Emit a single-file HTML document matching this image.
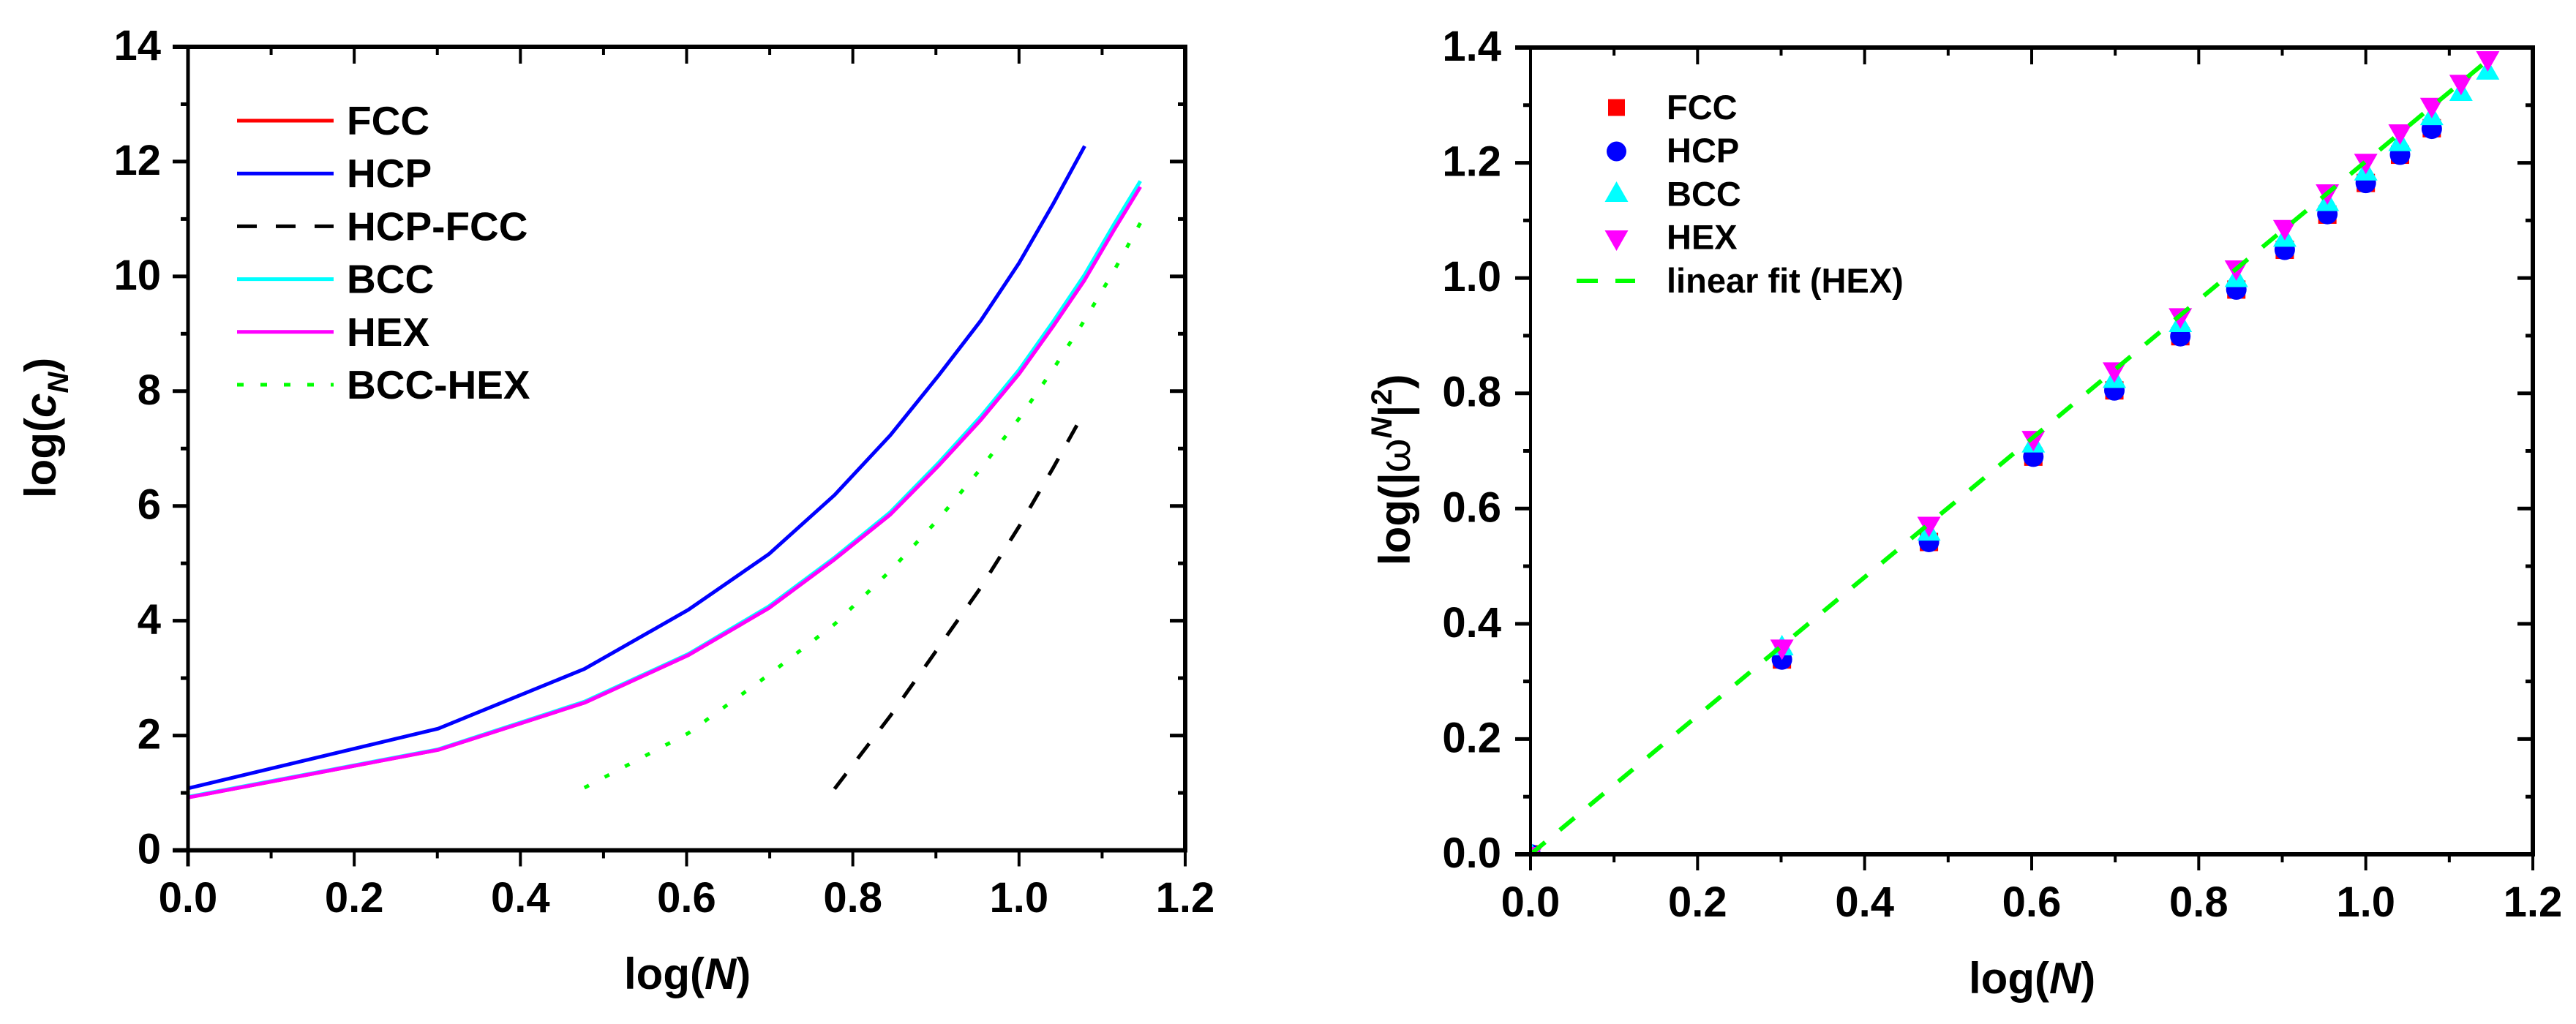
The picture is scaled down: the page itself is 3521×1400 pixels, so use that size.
<!DOCTYPE html>
<html lang="en">
<head>
<meta charset="utf-8">
<title>log(cN) and log(|omega N|^2) versus log(N)</title>
<style>
html,body{margin:0;padding:0;background:#fff;}
svg{display:block;}
text{font-family:"Liberation Sans",Arial,sans-serif;font-weight:bold;fill:#000;}
</style>
</head>
<body>
<svg id="figure" xmlns="http://www.w3.org/2000/svg" width="3521" height="1400" viewBox="0 0 3521 1400">
  <rect x="0" y="0" width="3521" height="1400" fill="#fff"/>
  <defs>
    <clipPath id="right-plot-clip"><rect x="2092" y="64" width="1370" height="1104"/></clipPath>
  </defs>
  <g id="left-chart"></g>
  <g id="right-chart"></g>

  <text font-size="60" transform="translate(76,681) rotate(-90)">log(<tspan font-style="italic">c</tspan><tspan font-style="italic" font-size="40" dy="17">N</tspan><tspan dy="-17">)</tspan></text>
  <text font-size="60" x="853" y="1352">log(<tspan font-style="italic">N</tspan>)</text>
  <text font-size="60" transform="translate(1927,773) rotate(-90)">log(|<tspan font-weight="normal">ω</tspan><tspan font-style="italic" font-size="40" dy="-25">N</tspan><tspan dy="25">|</tspan><tspan font-size="40" dy="-25">2</tspan><tspan dy="25">)</tspan></text>
  <text font-size="60" x="2691" y="1358">log(<tspan font-style="italic">N</tspan>)</text>
</svg>
<script>
// ---------- shared data ----------
const logN = [0, 0.301, 0.477, 0.602, 0.699, 0.778, 0.845, 0.903, 0.954, 1.0, 1.041, 1.079, 1.114, 1.146];

// ---------- left chart data: log(cN) ----------
const fccCurve = [0.92, 1.75, 2.57, 3.40, 4.22, 5.07, 5.85, 6.70, 7.50, 8.30, 9.13, 9.94];
const hcpCurve = [1.08, 2.12, 3.16, 4.19, 5.16, 6.19, 7.23, 8.27, 9.23, 10.23, 11.26, 12.27];
const bccCurve = [0.93, 1.76, 2.59, 3.42, 4.25, 5.10, 5.89, 6.75, 7.56, 8.37, 9.21, 10.03, 10.90, 11.66];
const hexCurve = [0.92, 1.75, 2.57, 3.40, 4.22, 5.07, 5.85, 6.70, 7.50, 8.30, 9.13, 9.94, 10.80, 11.56];
const hcpFccCurve = [1.07, 2.34, 3.53, 4.58, 5.64, 6.66, 7.65];
const hcpFccLogN = [0.778, 0.845, 0.903, 0.954, 1.0, 1.041, 1.079];
const bccHexCurve = [1.09, 2.04, 3.06, 3.94, 4.87, 5.77, 6.65, 7.52, 8.38, 9.24, 10.09, 10.93];
const bccHexLogN = [0.477, 0.602, 0.699, 0.778, 0.845, 0.903, 0.954, 1.0, 1.041, 1.079, 1.114, 1.146];
const leftXTickValues = [0, 0.2, 0.4, 0.6, 0.8, 1.0, 1.2];
const leftXTickLabels = ["0.0", "0.2", "0.4", "0.6", "0.8", "1.0", "1.2"];
const leftXMinorValues = [0.1, 0.3, 0.5, 0.7, 0.9, 1.1];
const leftYTickValues = [0, 2, 4, 6, 8, 10, 12, 14];
const leftYTickLabels = ["0", "2", "4", "6", "8", "10", "12", "14"];
const leftYMinorValues = [1, 3, 5, 7, 9, 11, 13];

// ---------- right chart data: log(|omega N|^2) ----------
const fccPoints = [0, 0.338, 0.542, 0.690, 0.805, 0.899, 0.980, 1.049, 1.110, 1.165, 1.214, 1.260];
const hcpPoints = [0, 0.338, 0.542, 0.690, 0.805, 0.899, 0.980, 1.049, 1.111, 1.165, 1.214, 1.259];
const bccPoints = [0, 0.358, 0.557, 0.710, 0.822, 0.919, 0.997, 1.067, 1.129, 1.182, 1.233, 1.278, 1.320, 1.357];
const hexPoints = [0, 0.360, 0.573, 0.722, 0.841, 0.935, 1.018, 1.088, 1.150, 1.203, 1.254, 1.300, 1.340, 1.381];
const fitLogN = [0, 1.146];
const fitValues = [0, 1.378];
const rightXTickValues = [0, 0.2, 0.4, 0.6, 0.8, 1.0, 1.2];
const rightXTickLabels = ["0.0", "0.2", "0.4", "0.6", "0.8", "1.0", "1.2"];
const rightXMinorValues = [0.1, 0.3, 0.5, 0.7, 0.9, 1.1];
const rightYTickValues = [0, 0.2, 0.4, 0.6, 0.8, 1.0, 1.2, 1.4];
const rightYTickLabels = ["0.0", "0.2", "0.4", "0.6", "0.8", "1.0", "1.2", "1.4"];
const rightYMinorValues = [0.1, 0.3, 0.5, 0.7, 0.9, 1.1, 1.3];

// ---------- axis functions ----------
function leftX(v) { return 257 + v * (1620 - 257) / 1.2; }
function leftY(v) { return 1162.5 - v * (1162.5 - 64) / 14; }
function rightX(v) { return 2092 + v * (3462 - 2092) / 1.2; }
function rightY(v) { return 1168 - v * (1168 - 65) / 1.4; }

const NS = "http://www.w3.org/2000/svg";
function make(tag, parent, attrs) {
  const el = document.createElementNS(NS, tag);
  for (const k in attrs) el.setAttribute(k, attrs[k]);
  parent.appendChild(el);
  return el;
}
function pointsOf(xs, ys, fx, fy) {
  return ys.map((v, i) => fx(xs[i]).toFixed(1) + "," + fy(v).toFixed(1)).join(" ");
}
function trianglePoints(cx, cy, dir) {
  return [[cx - 16, cy + 10 * dir], [cx + 16, cy + 10 * dir], [cx, cy - 18 * dir]]
    .map(p => p.join(",")).join(" ");
}

// ---------- frame and ticks ----------
function drawAxes(g, c) {
  const x0 = c.fx(0), x1 = c.fx(1.2), y0 = c.fy(0), y1 = c.fy(c.yMax);
  const frame = [
    [x0 - 21, y0, x1 + 3, y0, 6], [x0 - 21, y1, x1 + 3, y1, 6],
    [x0, y1 - 3, x0, y0 + 22, c.leftW], [x1, y1 - 3, x1, y0 + 3, 6]
  ];
  frame.forEach(f => {
    const el = make("line", g, { x1: f[0], y1: f[1], x2: f[2], y2: f[3], stroke: "#000", "stroke-width": f[4] });
    
    
  });
  c.xTicks.forEach((v, i) => {
    const px = c.fx(v);
    if (i > 0) {
      const b = make("line", g, { x1: px, y1: y0, x2: px, y2: y0 + 22, stroke: "#000", "stroke-width": 4 });
      
      
      const t = make("line", g, { x1: px, y1: y1, x2: px, y2: y1 + 23, stroke: "#000", "stroke-width": 4 });
      
      
    }
    const lab = make("text", g, { x: px, y: c.xLabelY, "text-anchor": "middle", "font-size": 58 });
    lab.textContent = c.xLabels[i];
    
    
  });
  c.xMinor.forEach(v => {
    const px = c.fx(v);
    const b = make("line", g, { x1: px, y1: y0, x2: px, y2: y0 + 11, stroke: "#000", "stroke-width": 4 });
    
    
    const t = make("line", g, { x1: px, y1: y1, x2: px, y2: y1 + 11, stroke: "#000", "stroke-width": 4 });
    
    
  });
  c.yTicks.forEach((v, i) => {
    const py = c.fy(v);
    const l = make("line", g, { x1: x0 - 21, y1: py, x2: x0, y2: py, stroke: "#000", "stroke-width": 5 });
    
    
    const r = make("line", g, { x1: x1 - 21, y1: py, x2: x1, y2: py, stroke: "#000", "stroke-width": 5 });
    
    
    const lab = make("text", g, { x: c.yLabelX, y: py + 18, "text-anchor": "end", "font-size": 58 });
    lab.textContent = c.yLabels[i];
    
    
  });
  c.yMinor.forEach(v => {
    const py = c.fy(v);
    const l = make("line", g, { x1: x0 - 10, y1: py, x2: x0, y2: py, stroke: "#000", "stroke-width": 5 });
    
    
    const r = make("line", g, { x1: x1 - 10, y1: py, x2: x1, y2: py, stroke: "#000", "stroke-width": 5 });
    
    
  });
}

// ---------- left chart ----------
const leftG = document.getElementById("left-chart");
function leftLine(name, xs, ys, color, dash) {
  const attrs = { points: pointsOf(xs, ys, leftX, leftY), fill: "none", stroke: color, "stroke-width": 5, "stroke-linejoin": "round" };
  if (dash) attrs["stroke-dasharray"] = dash;
  const el = make("polyline", leftG, attrs);
  
  
  return el;
}
leftLine("fcc-line", logN, fccCurve, "#ff0000");
leftLine("hcp-line", logN, hcpCurve, "#0000ff");
leftLine("hcp-fcc-line", hcpFccLogN, hcpFccCurve, "#000000", "26 26");
leftLine("bcc-line", logN, bccCurve, "#00ffff");
leftLine("hex-line", logN, hexCurve, "#ff00ff");
const dottedLine = leftLine("bcc-hex-line", bccHexLogN, bccHexCurve, "#00ff00", "7 24.5");
// Fit the dot spacing so that a dot lands on both ends of the line.
const dottedLength = dottedLine.getTotalLength();
const dottedCount = Math.round((dottedLength - 7) / 31.5);
dottedLine.setAttribute("stroke-dasharray", "7 " + ((dottedLength - 7) / dottedCount - 7).toFixed(3));

drawAxes(leftG, {
  fx: leftX, fy: leftY, yMax: 14, leftW: 5, xLabelY: 1247, yLabelX: 220,
  xTicks: leftXTickValues, xLabels: leftXTickLabels, xMinor: leftXMinorValues,
  yTicks: leftYTickValues, yLabels: leftYTickLabels, yMinor: leftYMinorValues
});

const leftLegendNames = ["FCC", "HCP", "HCP-FCC", "BCC", "HEX", "BCC-HEX"];
const leftLegendColors = ["#ff0000", "#0000ff", "#000000", "#00ffff", "#ff00ff", "#00ff00"];
const leftLegendDashes = ["", "", "27 26", "", "", "9 23"];
leftLegendNames.forEach((name, i) => {
  const y = 165 + i * 72.2;
  const attrs = { x1: 324, y1: y, x2: 456, y2: y, stroke: leftLegendColors[i], "stroke-width": 5 };
  if (leftLegendDashes[i]) attrs["stroke-dasharray"] = leftLegendDashes[i];
  const sw = make("line", leftG, attrs);
  
  
  const t = make("text", leftG, { x: 474, y: y + 19, "font-size": 55 });
  t.textContent = name;
  
  
});

// ---------- right chart ----------
const rightG = document.getElementById("right-chart");
const markerG = make("g", rightG, { "clip-path": "url(#right-plot-clip)" });



fccPoints.forEach((v, i) => {
  const el = make("rect", markerG, { x: rightX(logN[i]) - 12.5, y: rightY(v) - 12.5, width: 25, height: 25, fill: "#ff0000" });
  
  
});
hcpPoints.forEach((v, i) => {
  const el = make("circle", markerG, { cx: rightX(logN[i]), cy: rightY(v), r: 14, fill: "#0000ff" });
  
  
});
bccPoints.forEach((v, i) => {
  const el = make("polygon", markerG, { points: trianglePoints(rightX(logN[i]), rightY(v), 1), fill: "#00ffff" });
  
  
});
hexPoints.forEach((v, i) => {
  const el = make("polygon", markerG, { points: trianglePoints(rightX(logN[i]), rightY(v), -1), fill: "#ff00ff" });
  
  
});
const fitLine = make("polyline", markerG, { points: pointsOf(fitLogN, fitValues, rightX, rightY), fill: "none", stroke: "#00ff00", "stroke-width": 6, "stroke-dasharray": "26 26" });



drawAxes(rightG, {
  fx: rightX, fy: rightY, yMax: 1.4, leftW: 4, xLabelY: 1253, yLabelX: 2052,
  xTicks: rightXTickValues, xLabels: rightXTickLabels, xMinor: rightXMinorValues,
  yTicks: rightYTickValues, yLabels: rightYTickLabels, yMinor: rightYMinorValues
});

const rightLegendNames = ["FCC", "HCP", "BCC", "HEX", "linear fit (HEX)"];
rightLegendNames.forEach((name, i) => {
  const t = make("text", rightG, { x: 2278, y: 163 + i * 59.2, "font-size": 47 });
  t.textContent = name;
  
  
});
const swSquare = make("rect", rightG, { x: 2198, y: 135.5, width: 23, height: 23, fill: "#ff0000" });


const swCircle = make("circle", rightG, { cx: 2209.5, cy: 207, r: 13.5, fill: "#0000ff" });


const swUp = make("polygon", rightG, { points: trianglePoints(2209.5, 266, 1), fill: "#00ffff" });


const swDown = make("polygon", rightG, { points: trianglePoints(2209.5, 325, -1), fill: "#ff00ff" });


const swFit = make("line", rightG, { x1: 2155, y1: 384, x2: 2235, y2: 384, stroke: "#00ff00", "stroke-width": 6, "stroke-dasharray": "29 24" });


</script>
</body>
</html>
